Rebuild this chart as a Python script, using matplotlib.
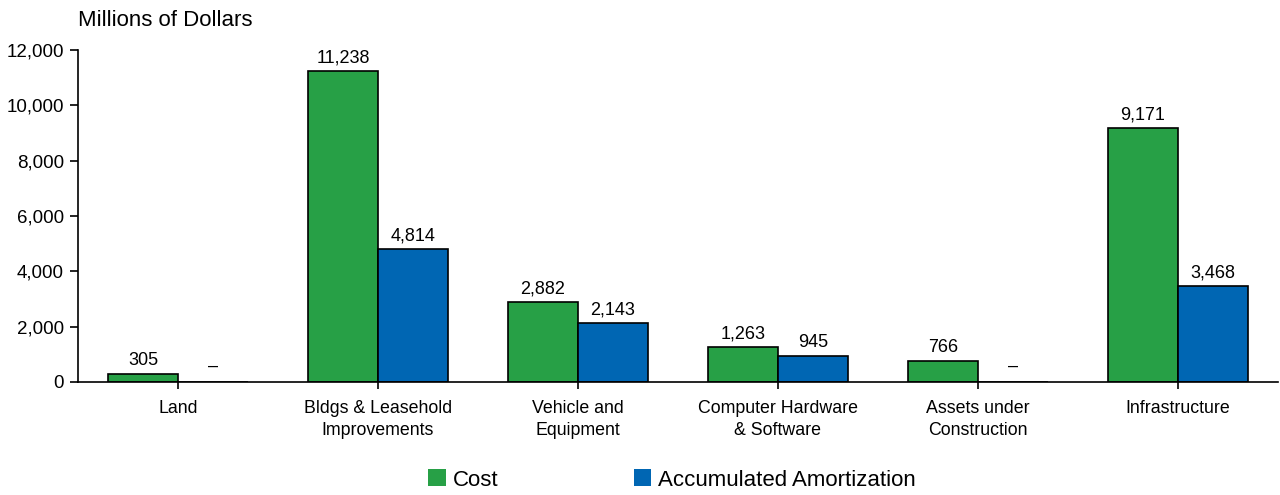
import numpy as np
import matplotlib.pyplot as plt
from matplotlib.patches import Patch

plt.rcParams['font.family'] = ['Liberation Sans', 'DejaVu Sans']

kategorije = ['Land', 'Bldgs & Leasehold\nImprovements', 'Vehicle and\nEquipment',
              'Computer Hardware\n& Software', 'Assets under\nConstruction', 'Infrastructure']
trosak = [305, 11238, 2882, 1263, 766, 9171]
amortizacija = [0, 4814, 2143, 945, 0, 3468]

zelena = '#27a046'
plava = '#0066b3'

fig = plt.figure(figsize=(12.8, 4.95), dpi=100)
ax = fig.add_axes([78 / 1280, 1 - 382 / 495, 1200 / 1280, 332 / 495])

x = np.arange(len(kategorije))
w = 0.35
ax.bar(x - w / 2, trosak, w, color=zelena, edgecolor='black', linewidth=1.2)
ax.bar(x + w / 2, amortizacija, w, color=plava, edgecolor='black', linewidth=1.2)

for i in range(len(x)):
    ax.text(x[i] - w / 2, trosak[i] + 170, '{:,}'.format(trosak[i]),
            ha='center', va='bottom', fontsize=13)
    if amortizacija[i] > 0:
        ax.text(x[i] + w / 2, amortizacija[i] + 170, '{:,}'.format(amortizacija[i]),
                ha='center', va='bottom', fontsize=13)
    else:
        ax.text(x[i] + w / 2, 250, '–', ha='center', va='bottom', fontsize=13)

ax.set_xlim(-0.5, 5.5)
ax.set_ylim(0, 12000)
ax.set_yticks(range(0, 12001, 2000))
ax.set_yticklabels(['{:,}'.format(v) for v in range(0, 12001, 2000)], fontsize=13.5)
ax.set_xticks(x)
ax.set_xticklabels(kategorije, fontsize=12.8, linespacing=1.4)
ax.tick_params(axis='y', length=6, width=1.2, pad=4)
ax.tick_params(axis='x', length=5, width=1.2, pad=8)
ax.spines['top'].set_visible(False)
ax.spines['right'].set_visible(False)
ax.spines['left'].set_linewidth(1.2)
ax.spines['bottom'].set_linewidth(1.2)

fig.text(78 / 1280, 1 - 20 / 495, 'Millions of Dollars', fontsize=16, va='center', ha='left')

ruke = [Patch(facecolor=zelena, edgecolor='none'), Patch(facecolor=plava, edgecolor='none')]
fig.legend(ruke, ['Cost', 'Accumulated Amortization'], loc='center', ncol=2,
           bbox_to_anchor=(0.525, 1 - 480 / 495), frameon=False, fontsize=16,
           handlelength=0.8, handleheight=0.8, handletextpad=0.3, columnspacing=6.1)

fig.savefig('out.png', dpi=100)
